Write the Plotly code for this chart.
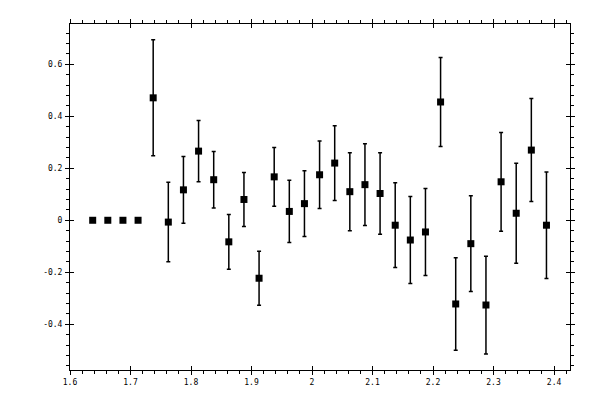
import plotly.graph_objects as go

# Data
x_vals = [1.6375, 1.6625, 1.6875, 1.7125, 1.7375, 1.7625, 1.7875, 1.8125, 1.8375,
          1.8625, 1.8875, 1.9125, 1.9375, 1.9625, 1.9875, 2.0125, 2.0375, 2.0625,
          2.0875, 2.1125, 2.1375, 2.1625, 2.1875, 2.2125, 2.2375, 2.2625, 2.2875,
          2.3125, 2.3375, 2.3625, 2.3875]
y_vals = [0.0, 0.0, 0.0, 0.0, 0.471, -0.007, 0.117, 0.266, 0.156,
          -0.083, 0.080, -0.223, 0.167, 0.034, 0.064, 0.175, 0.220, 0.110,
          0.137, 0.103, -0.019, -0.076, -0.045, 0.455, -0.322, -0.090, -0.326,
          0.148, 0.027, 0.270, -0.019]
y_err = [0.0, 0.0, 0.0, 0.0, 0.223, 0.153, 0.128, 0.118, 0.109,
         0.105, 0.104, 0.104, 0.113, 0.120, 0.126, 0.130, 0.144, 0.150,
         0.157, 0.157, 0.163, 0.167, 0.167, 0.171, 0.178, 0.184, 0.188,
         0.190, 0.192, 0.198, 0.205]

x_tickvals = [1.6, 1.7, 1.8, 1.9, 2.0, 2.1, 2.2, 2.3, 2.4]
x_ticktext = ["1.6", "1.7", "1.8", "1.9", "2", "2.1", "2.2", "2.3", "2.4"]
y_tickvals = [-0.4, -0.2, 0.0, 0.2, 0.4, 0.6]
y_ticktext = ["-0.4", "-0.2", "0", "0.2", "0.4", "0.6"]

x_range = [1.6, 2.4264]
y_range = [-0.576, 0.755]

font = dict(family="DejaVu Sans Mono", size=8, color="black")

fig = go.Figure()
fig.add_trace(go.Scatter(
    x=x_vals, y=y_vals, mode="markers",
    marker=dict(symbol="square", size=7, color="black"),
    error_y=dict(type="data", array=y_err, visible=True, color="black",
                 thickness=1.5, width=2),
    showlegend=False, hoverinfo="skip",
))
# invisible trace to host the overlay axes (inner half of major ticks)
fig.add_trace(go.Scatter(
    x=[x_range[0]], y=[y_range[0]], xaxis="x2", yaxis="y2", mode="markers",
    marker=dict(opacity=0), showlegend=False, hoverinfo="skip",
))

common = dict(showgrid=False, zeroline=False, showline=True, linecolor="black",
              linewidth=1, mirror="ticks", ticks="outside", ticklen=4,
              tickwidth=1, tickcolor="black", tickfont=font)

fig.update_layout(
    width=592, height=392,
    margin=dict(l=62, r=30, t=11, b=30),
    paper_bgcolor="white", plot_bgcolor="white",
    xaxis=dict(range=x_range, tickvals=x_tickvals, ticktext=x_ticktext,
               minor=dict(dtick=0.02, tick0=1.6, ticks="outside", ticklen=3,
                          tickwidth=1, tickcolor="black"),
               ticklabelstandoff=0, **common),
    yaxis=dict(range=y_range, tickvals=y_tickvals, ticktext=y_ticktext,
               minor=dict(dtick=0.04, tick0=0, ticks="outside", ticklen=3,
                          tickwidth=1, tickcolor="black"),
               ticklabelstandoff=1, **common),
    xaxis2=dict(range=x_range, overlaying="x", matches="x", anchor="y2",
                tickvals=x_tickvals, ticks="inside", ticklen=4, tickwidth=1,
                tickcolor="black", showticklabels=False, showgrid=False,
                zeroline=False, showline=False, mirror="ticks"),
    yaxis2=dict(range=y_range, overlaying="y", matches="y", anchor="x2",
                tickvals=y_tickvals, ticks="inside", ticklen=4, tickwidth=1,
                tickcolor="black", showticklabels=False, showgrid=False,
                zeroline=False, showline=False, mirror="ticks"),
)

fig.write_html("out.html")
